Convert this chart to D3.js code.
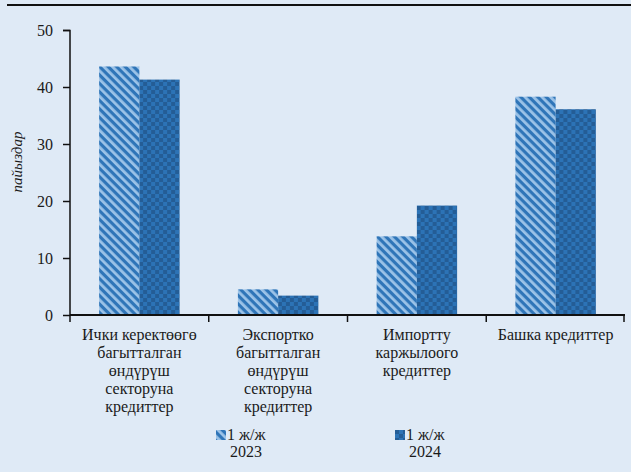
<!DOCTYPE html>
<html>
<head>
<meta charset="utf-8">
<script src="https://cdn.jsdelivr.net/npm/d3@7"></script>
<style>
  html, body { margin: 0; padding: 0; background: #dfeaf6; }
  svg { display: block; }
</style>
</head>
<body>
<svg id="chart" width="631" height="472"></svg>
<script>
// Loan categories (each label split into display lines)
const categories = [
  ["Ички керектөөгө", "багытталган", "өндүрүш", "секторуна", "кредиттер"],
  ["Экспортко", "багытталган", "өндүрүш", "секторуна", "кредиттер"],
  ["Импортту", "каржылоого", "кредиттер"],
  ["Башка кредиттер"]
];
const seriesNames = [["1 ж/ж", "2023"], ["1 ж/ж", "2024"]];
const values2023 = [43.6, 4.5, 13.8, 38.3];
const values2024 = [41.3, 3.4, 19.2, 36.1];
const yTicks = [0, 10, 20, 30, 40, 50];
const yTitle = "пайыздар";

const FONT = "Liberation Serif";
const INK = "#1a1a1a";
const svg = d3.select("#chart").attr("font-family", FONT);
const W = 631, H = 472;
const margin = { left: 70, right: 6, top: 30, bottom: 157 };
const plotW = W - margin.left - margin.right;
const plotH = H - margin.top - margin.bottom;

// Fill patterns: diagonal stripes for 2023, checkerboard for 2024
const defs = svg.append("defs");
const stripes = defs.append("pattern")
  .attr("id", "pat2023").attr("patternUnits", "userSpaceOnUse")
  .attr("width", 6).attr("height", 6)
  .attr("patternTransform", "rotate(-45)");
stripes.append("rect").attr("width", 6).attr("height", 6).attr("fill", "#2f75b8");
stripes.append("rect").attr("x", 0).attr("width", 2.8).attr("height", 6).attr("fill", "#9cc3e8");

const checker = defs.append("pattern")
  .attr("id", "pat2024").attr("patternUnits", "userSpaceOnUse")
  .attr("width", 8).attr("height", 8);
checker.append("rect").attr("width", 8).attr("height", 8).attr("fill", "#2c73b6");
checker.append("rect").attr("x", 0).attr("y", 0).attr("width", 4).attr("height", 4).attr("fill", "#245d96");
checker.append("rect").attr("x", 4).attr("y", 4).attr("width", 4).attr("height", 4).attr("fill", "#245d96");

const fills = ["url(#pat2023)", "url(#pat2024)"];

// Top rule
svg.append("line")
  .attr("x1", 7).attr("x2", W).attr("y1", 5).attr("y2", 5)
  .attr("stroke", "#111").attr("stroke-width", 2);

const g = svg.append("g").attr("transform", `translate(${margin.left},${margin.top})`);

const x0 = d3.scaleBand().domain(d3.range(categories.length)).range([0, plotW]).paddingInner(0.42).paddingOuter(0.21);
const x1 = d3.scaleBand().domain([0, 1]).range([0, x0.bandwidth()]);
const y = d3.scaleLinear().domain([0, 50]).range([plotH, 0]);

const data = categories.map((c, i) => [values2023[i], values2024[i]]);

const groups = g.selectAll("g.grp").data(data).join("g")
  .attr("class", "grp")
  .attr("transform", (d, i) => `translate(${x0(i)},0)`);
groups.selectAll("rect").data(d => d).join("rect")
  .attr("x", (d, j) => x1(j))
  .attr("width", x1.bandwidth())
  .attr("y", d => y(d))
  .attr("height", d => y(0) - y(d))
  .attr("fill", (d, j) => fills[j]);

// Y axis
const yAxis = g.append("g").call(d3.axisLeft(y).tickValues(yTicks).tickSize(7).tickPadding(10).tickFormat(d3.format("d")));
yAxis.attr("font-family", FONT).attr("font-size", 16);
yAxis.select(".domain").attr("stroke", "#111").attr("stroke-width", 1.5).attr("d", `M-7,0.5H0V${plotH}`);
yAxis.selectAll(".tick line").attr("stroke", "#111").attr("stroke-width", 1.5);
yAxis.selectAll(".tick text").attr("fill", INK);

// X axis with ticks at category boundaries
const bounds = d3.range(categories.length + 1).map(i => i * plotW / categories.length);
const xa = g.append("g").attr("transform", `translate(0,${plotH})`);
xa.append("line").attr("x1", 0).attr("x2", plotW).attr("y1", 0).attr("y2", 0)
  .attr("stroke", "#111").attr("stroke-width", 2);
xa.selectAll("line.tk").data(bounds).join("line").attr("class", "tk")
  .attr("x1", d => Math.min(d, plotW - 1)).attr("x2", d => Math.min(d, plotW - 1))
  .attr("y1", 0).attr("y2", 7).attr("stroke", "#111").attr("stroke-width", 1.5);

// Category labels
categories.forEach((lines, i) => {
  const cx = x0(i) + x0.bandwidth() / 2;
  const t = xa.append("text").attr("text-anchor", "middle")
    .attr("font-family", FONT).attr("font-size", 16).attr("fill", INK);
  lines.forEach((ln, k) => {
    t.append("tspan").attr("x", cx).attr("y", 25 + k * 18).text(ln);
  });
});

// Y axis title
svg.append("text")
  .attr("transform", `translate(22,162) rotate(-90)`)
  .attr("text-anchor", "middle")
  .attr("font-family", FONT).attr("font-size", 15).attr("font-style", "italic").attr("fill", INK)
  .text(yTitle);

// Legend
const legendX = [216, 395];
seriesNames.forEach((nm, j) => {
  const lg = svg.append("g").attr("transform", `translate(${legendX[j]},430)`)
    .attr("font-family", FONT).attr("font-size", 16).attr("fill", INK);
  lg.append("rect").attr("x", 0).attr("y", 0).attr("width", 10).attr("height", 10).attr("fill", fills[j]);
  lg.append("text").attr("x", 11).attr("y", 10).text(nm[0]);
  lg.append("text").attr("x", 30).attr("y", 27).attr("text-anchor", "middle").text(nm[1]);
});
</script>
</body>
</html>
